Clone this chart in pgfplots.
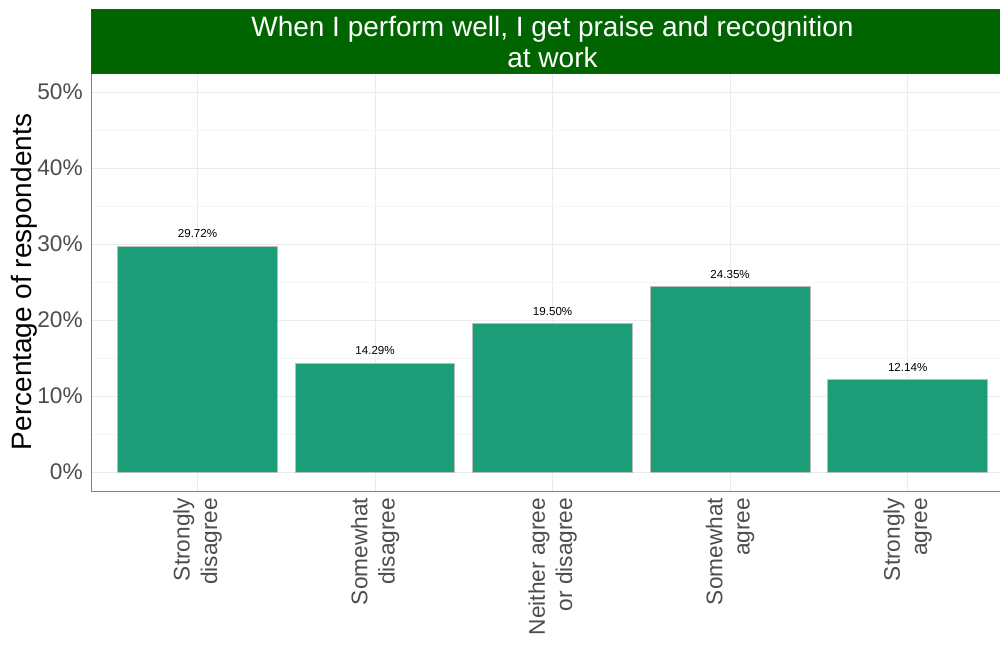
\documentclass[border=0pt]{standalone}
\usepackage{pgfplots}
\pgfplotsset{compat=1.18}
\usepackage{fontspec}
\setmainfont{Liberation Sans}
\definecolor{barfill}{HTML}{1B9E77}
\definecolor{barline}{HTML}{BDBDBD}
\definecolor{stripg}{HTML}{006400}
\definecolor{tickgrey}{HTML}{4D4D4D}
\definecolor{gridmaj}{HTML}{EBEBEB}
\definecolor{gridmin}{HTML}{F5F5F5}
\definecolor{axisgrey}{HTML}{808080}
\begin{document}
\begin{tikzpicture}
\begin{axis}[
  name=ax,
  at={(0,0)}, anchor=south west,
  scale only axis, width=681.75pt, height=313.5pt,
  xmin=-0.6, xmax=4.52, ymin=-2.5, ymax=52.5,
  axis x line*=bottom, axis y line*=left,
  axis line style={axisgrey, line width=0.7pt},
  major tick length=0pt, minor tick length=0pt,
  xtick={0,1,2,3,4},
  xticklabels={{Strongly\\disagree},{Somewhat\\disagree},{Neither agree\\or disagree},{Somewhat\\agree},{Strongly\\agree}},
  xticklabel style={rotate=90, anchor=east, align=right, font=\fontsize{17}{20.5}\selectfont, text=tickgrey, inner sep=0pt},
  xticklabel shift=5pt,
  ytick={0,10,20,30,40,50},
  yticklabels={0\%,10\%,20\%,30\%,40\%,50\%},
  minor ytick={5,15,25,35,45},
  yticklabel style={font=\fontsize{17}{20}\selectfont, text=tickgrey, inner sep=0pt},
  yticklabel shift=6pt,
  xmajorgrids, ymajorgrids, yminorgrids,
  major grid style={gridmaj, line width=0.75pt},
  minor grid style={gridmin, line width=0.5pt},
  ylabel={Percentage of respondents},
  ylabel style={at={([xshift=-50pt]axis description cs:0,0.5)}, anchor=center, font=\fontsize{21}{24}\selectfont, text=black},
  ybar, bar width=0.9, bar shift=0pt,
  nodes near coords={\pgfmathprintnumber[fixed,fixed zerofill,precision=2,assume math mode=true]{\pgfplotspointmeta}\%},
  nodes near coords style={font=\fontsize{8.7}{10}\selectfont, text=black, anchor=base, yshift=6.5pt, inner sep=0pt},
  clip=false,
]
\addplot[fill=barfill, draw=barline, line width=0.75pt] coordinates {
  (0,29.72) (1,14.29) (2,19.50) (3,24.35) (4,12.14)
};
\end{axis}
\fill[stripg, draw=black!75, line width=0.5pt] (ax.north west) rectangle ([yshift=48pt]ax.north east);
\node[text=white, align=center, font=\fontsize{21}{23}\selectfont, inner sep=0pt] at ([xshift=5.25pt,yshift=23.5pt]ax.north) {When I perform well, I get praise and recognition\\at work};
\pgfresetboundingbox
\path[use as bounding box] (-68.25pt,-114.75pt) rectangle (681.75pt,368.25pt);
\end{tikzpicture}
\end{document}
